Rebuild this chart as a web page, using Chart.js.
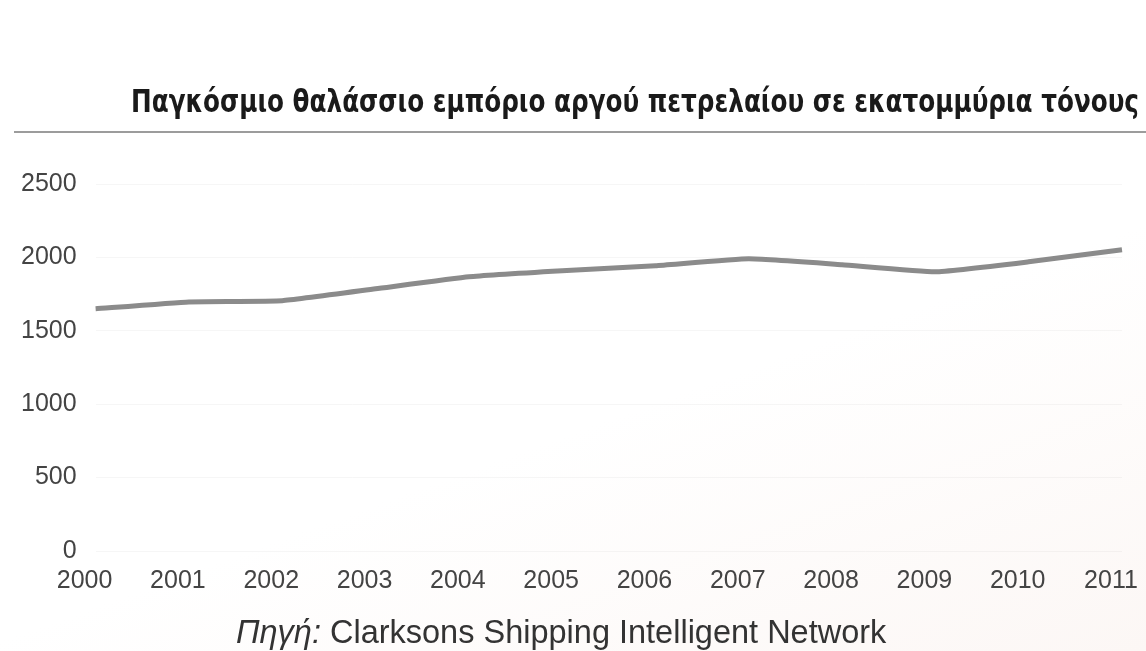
<!DOCTYPE html>
<html lang="el">
<head>
<meta charset="utf-8">
<title>Παγκόσμιο θαλάσσιο εμπόριο αργού πετρελαίου</title>
<script src="https://cdn.jsdelivr.net/npm/chart.js@4/dist/chart.umd.min.js"></script>
<style>
  html, body { margin: 0; padding: 0; background: #ffffff; }
  #wrap { position: relative; width: 1146px; height: 651px;
          background: linear-gradient(160deg, #ffffff 0%, #ffffff 60%, #fcf7f5 100%); }
  canvas { display: block; }
</style>
</head>
<body>
<div id="wrap"><canvas id="chart" width="1146" height="651"></canvas></div>
<script>
// Years on the horizontal axis
const years = ['2000', '2001', '2002', '2003', '2004', '2005', '2006', '2007', '2008', '2009', '2010', '2011'];
// Seaborne crude oil trade, million tonnes
const crudeTrade = [1650, 1697, 1705, 1786, 1868, 1909, 1943, 1990, 1950, 1902, 1970, 2052];
// Vertical axis ticks
const yTicks = [0, 500, 1000, 1500, 2000, 2500];

const titleText = 'Παγκόσμιο θαλάσσιο εμπόριο αργού πετρελαίου σε εκατομμύρια τόνους';
const sourceLabel = 'Πηγή:';
const sourceText = 'Clarksons Shipping Intelligent Network';

// Heading above the plot, a grey rule under it and the source line below
const decorations = {
  id: 'decorations',
  afterDraw(chart) {
    const ctx = chart.ctx;
    ctx.save();

    // heading, condensed to span the full width on the right
    ctx.font = 'bold 31px "DejaVu Sans Condensed", "Liberation Sans Narrow", "DejaVu Sans", sans-serif';
    ctx.fillStyle = '#1a1a1a';
    ctx.textBaseline = 'alphabetic';
    const w = ctx.measureText(titleText).width;
    const targetW = 1008;
    ctx.save();
    ctx.translate(131, 112);
    ctx.scale(targetW / w, 1);
    ctx.fillText(titleText, 0, 0);
    ctx.restore();

    // rule under the heading
    ctx.strokeStyle = '#9c9c9c';
    ctx.lineWidth = 2;
    ctx.beginPath();
    ctx.moveTo(14, 132);
    ctx.lineTo(1146, 132);
    ctx.stroke();

    // source line
    ctx.fillStyle = '#333333';
    ctx.font = 'italic 32.5px "Liberation Sans", Arial, sans-serif';
    ctx.fillText(sourceLabel, 236, 643);
    const lw = ctx.measureText(sourceLabel + ' ').width;
    ctx.font = '32.5px "Liberation Sans", Arial, sans-serif';
    ctx.fillText(sourceText, 236 + lw, 643);

    ctx.restore();
  }
};

new Chart(document.getElementById('chart'), {
  type: 'line',
  data: {
    labels: years,
    datasets: [{
      data: crudeTrade,
      borderColor: '#8b8b8b',
      borderWidth: 5,
      pointRadius: 0,
      tension: 0.12,
      fill: false
    }]
  },
  options: {
    responsive: false,
    animation: false,
    layout: { padding: { top: 184, left: 2, right: 24, bottom: 40 } },
    plugins: {
      legend: { display: false },
      tooltip: { enabled: false }
    },
    scales: {
      x: {
        offset: false,
        afterFit(scale) { scale.paddingLeft = 0; scale.paddingRight = 0; },
        grid: { display: false, drawTicks: false },
        border: { display: false },
        ticks: {
          color: '#444444',
          font: { family: '"Liberation Sans", Arial, sans-serif', size: 25 },
          padding: 15,
          labelOffset: -11,
          maxRotation: 0,
          autoSkip: false
        }
      },
      y: {
        min: 0,
        max: 2500,
        afterBuildTicks(scale) { scale.ticks = yTicks.map(v => ({ value: v })); },
        grid: { color: 'rgba(0,0,0,0.035)', drawTicks: false },
        border: { display: false },
        ticks: {
          color: '#444444',
          font: { family: '"Liberation Sans", Arial, sans-serif', size: 25 },
          padding: 19,
          callback: v => String(v)
        }
      }
    }
  },
  plugins: [decorations]
});
</script>
</body>
</html>
